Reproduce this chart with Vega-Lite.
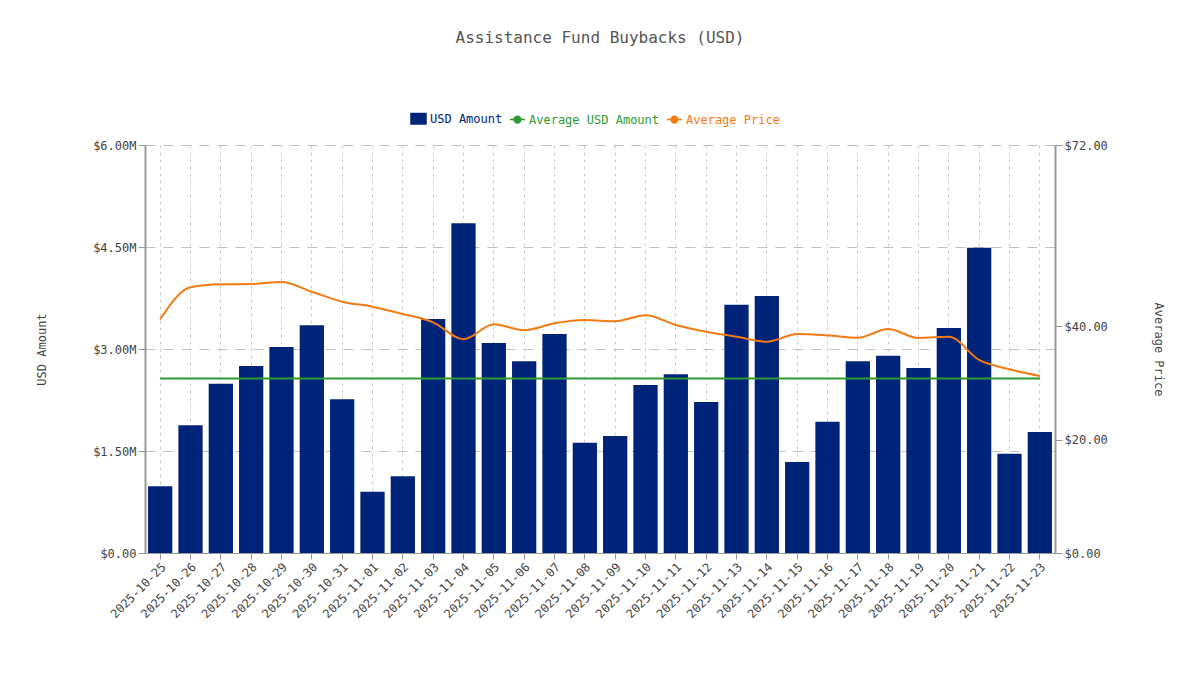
{
  "$schema": "https://vega.github.io/schema/vega-lite/v6.json",
  "width": 910,
  "height": 408,
  "autosize": {"type": "none"},
  "padding": {"left": 145, "top": 145, "right": 144, "bottom": 145},
  "background": "white",
  "title": {
    "text": "Assistance Fund Buybacks (USD)",
    "anchor": "middle",
    "font": "DejaVu Sans Mono",
    "fontSize": 16,
    "fontWeight": "normal",
    "color": "#555555",
    "offset": 64
  },
  "config": {
    "view": {"stroke": null},
    "font": "DejaVu Sans Mono",
    "axis": {
      "labelFont": "DejaVu Sans Mono",
      "titleFont": "DejaVu Sans Mono",
      "labelFontSize": 12,
      "titleFontSize": 12,
      "titleFontWeight": "normal",
      "labelColor": "#444444",
      "titleColor": "#444444",
      "domainColor": "#999999",
      "tickColor": "#999999",
      "domainWidth": 2
    },
    "legend": {"labelFont": "DejaVu Sans Mono", "labelFontSize": 12}
  },
  "data": {
    "values": [
      {"date": "2025-10-25", "usd": 980000, "avg_usd": 2568000, "price": 41.24},
      {"date": "2025-10-26", "usd": 1880000, "avg_usd": 2568000, "price": 46.89},
      {"date": "2025-10-27", "usd": 2490000, "avg_usd": 2568000, "price": 47.42},
      {"date": "2025-10-28", "usd": 2750000, "avg_usd": 2568000, "price": 47.47},
      {"date": "2025-10-29", "usd": 3030000, "avg_usd": 2568000, "price": 47.82},
      {"date": "2025-10-30", "usd": 3350000, "avg_usd": 2568000, "price": 46.11},
      {"date": "2025-10-31", "usd": 2260000, "avg_usd": 2568000, "price": 44.35},
      {"date": "2025-11-01", "usd": 900000, "avg_usd": 2568000, "price": 43.47},
      {"date": "2025-11-02", "usd": 1130000, "avg_usd": 2568000, "price": 42.18},
      {"date": "2025-11-03", "usd": 3440000, "avg_usd": 2568000, "price": 40.71},
      {"date": "2025-11-04", "usd": 4850000, "avg_usd": 2568000, "price": 37.71},
      {"date": "2025-11-05", "usd": 3090000, "avg_usd": 2568000, "price": 40.36},
      {"date": "2025-11-06", "usd": 2820000, "avg_usd": 2568000, "price": 39.30},
      {"date": "2025-11-07", "usd": 3220000, "avg_usd": 2568000, "price": 40.53},
      {"date": "2025-11-08", "usd": 1620000, "avg_usd": 2568000, "price": 41.12},
      {"date": "2025-11-09", "usd": 1720000, "avg_usd": 2568000, "price": 40.89},
      {"date": "2025-11-10", "usd": 2470000, "avg_usd": 2568000, "price": 41.95},
      {"date": "2025-11-11", "usd": 2630000, "avg_usd": 2568000, "price": 40.24},
      {"date": "2025-11-12", "usd": 2220000, "avg_usd": 2568000, "price": 39.05},
      {"date": "2025-11-13", "usd": 3650000, "avg_usd": 2568000, "price": 38.17},
      {"date": "2025-11-14", "usd": 3780000, "avg_usd": 2568000, "price": 37.29},
      {"date": "2025-11-15", "usd": 1340000, "avg_usd": 2568000, "price": 38.65},
      {"date": "2025-11-16", "usd": 1930000, "avg_usd": 2568000, "price": 38.42},
      {"date": "2025-11-17", "usd": 2820000, "avg_usd": 2568000, "price": 37.99},
      {"date": "2025-11-18", "usd": 2900000, "avg_usd": 2568000, "price": 39.53},
      {"date": "2025-11-19", "usd": 2720000, "avg_usd": 2568000, "price": 37.94},
      {"date": "2025-11-20", "usd": 3310000, "avg_usd": 2568000, "price": 38.17},
      {"date": "2025-11-21", "usd": 4490000, "avg_usd": 2568000, "price": 34.06},
      {"date": "2025-11-22", "usd": 1460000, "avg_usd": 2568000, "price": 32.42},
      {"date": "2025-11-23", "usd": 1780000, "avg_usd": 2568000, "price": 31.24}
    ]
  },
  "encoding": {
    "x": {
      "field": "date",
      "type": "ordinal",
      "scale": {"paddingInner": 0.2, "paddingOuter": 0.1},
      "axis": {
        "title": null,
        "labelAngle": -45,
        "grid": true,
        "bandPosition": 0.5,
        "gridDash": [3, 4],
        "gridColor": "#cccccc",
        "tickSize": 6,
        "domainWidth": 1
      }
    }
  },
  "layer": [
    {
      "layer": [
        {
          "mark": {"type": "bar"},
          "encoding": {
            "y": {
              "field": "usd",
              "type": "quantitative",
              "scale": {"domain": [0, 6000000]},
              "axis": {
                "title": "USD Amount",
                "values": [0, 1500000, 3000000, 4500000, 6000000],
                "labelExpr": "datum.value == 0 ? '$0.00' : '$' + format(datum.value / 1000000, '.2f') + 'M'",
                "grid": true,
                "gridDash": [10, 8],
                "gridColor": "#c0c0c0",
                "tickSize": 7,
                "labelPadding": 2,
                "titlePadding": 44
              }
            },
            "color": {
              "datum": "USD Amount",
              "scale": {
                "domain": ["USD Amount", "Average USD Amount", "Average Price"],
                "range": ["#00237a", "#2e9a34", "#f47a14"]
              },
              "legend": {
                "title": null,
                "orient": "none",
                "direction": "horizontal",
                "legendX": 265,
                "legendY": -35,
                "columnPadding": 4,
                "symbolSize": 225,
                "symbolStrokeWidth": 1.5,
                "labelOffset": 3,
                "encode": {
                  "symbols": {
                    "update": {
                      "shape": {"signal": "datum.value === 'USD Amount' ? 'M-1,-0.7H1V0.7H-1Z' : 'M-1,0H-0.45M0.45,0H1M0.45,0A0.45,0.45 0 1,1 -0.45,0A0.45,0.45 0 1,1 0.45,0Z'"},
                      "fill": {"signal": "datum.value === 'USD Amount' ? '#00237a' : '#ffffff'"},
                      "fillOpacity": {"value": 1},
                      "stroke": {"scale": "color", "field": "value"},
                      "strokeWidth": {"value": 1.5},
                      "opacity": {"value": 1}
                    }
                  },
                  "labels": {
                    "update": {"fill": {"scale": "color", "field": "value"}}
                  }
                }
              }
            }
          }
        },
        {
          "mark": {"type": "line", "strokeWidth": 2},
          "encoding": {
            "y": {"field": "avg_usd", "type": "quantitative"},
            "color": {"datum": "Average USD Amount"}
          }
        }
      ]
    },
    {
      "mark": {"type": "line", "strokeWidth": 2, "interpolate": "monotone"},
      "encoding": {
        "y": {
          "field": "price",
          "type": "quantitative",
          "scale": {"domain": [0, 72]},
          "axis": {
            "title": "Average Price",
            "orient": "right",
            "values": [0, 20, 40, 72],
            "format": "$.2f",
            "grid": false,
            "tickSize": 7,
            "labelPadding": 2,
            "titlePadding": 44
          }
        },
        "color": {"datum": "Average Price"}
      }
    }
  ],
  "resolve": {"scale": {"y": "independent"}}
}
